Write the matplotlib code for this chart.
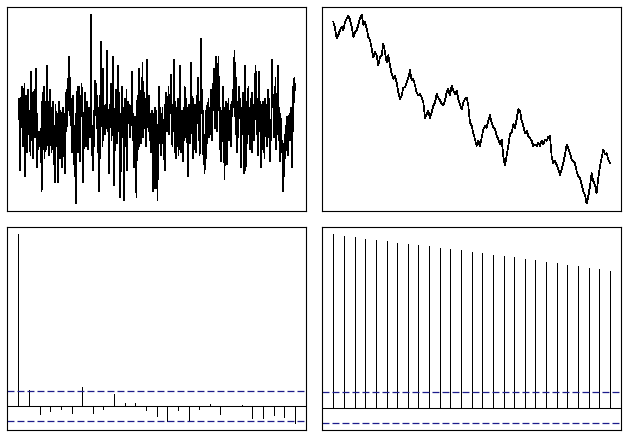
import numpy as np
import matplotlib
matplotlib.use("Agg")
import matplotlib.pyplot as plt

# white noise series
noise = [
    0.0, 0.7, 0.2, -1.7, -0.4, 0.5, 1.1, 0.3, -0.6, -0.9, 0.4, 1.2, -1.9, -0.2, 0.8, 0.6, -1.1, -0.3, 1.0, -0.5,
    0.3, -0.8, -1.2, 1.6, 0.9, -0.1, -1.3, 0.4, 0.7, 1.0, -0.6, -0.2, 1.7, -1.6, 0.2, -0.7, -1.0, -0.4, -0.8, -0.9,
    -0.3, -0.6, -2.4, 0.5, 0.9, -0.4, 1.1, -1.3, -0.8, 0.2, 0.6, -1.0, 1.8, 0.4, -0.5, -1.2, 0.1, 1.0, 0.7, -0.6,
    -1.1, 0.4, -0.2, 0.6, -1.5, -0.7, -2.1, 0.5, -0.3, -0.9, 0.2, -2.1, -1.0, 0.6, -0.4, -1.3, 0.3, 0.1, -0.8, -1.6,
    0.4, -0.5, 0.2, -1.3, -1.8, 0.6, 0.9, -0.4, 1.0, 0.3, 1.3, 2.1, 0.9, 1.4, -0.2, 0.7, -0.6, -1.1, 0.3, 0.8,
    -1.5, -0.9, -1.9, 0.2, -2.8, -0.4, 0.8, 1.1, -1.1, -0.3, 1.1, -1.4, 0.5, 0.1, 1.2, 0.6, -0.3, -2.1, -0.7, 0.2,
    0.9, -0.5, -0.9, 0.3, 0.6, -0.2, -1.0, 0.4, 0.2, -0.6, 0.5, 3.5, 0.1, -1.2, -0.6, -1.7, 0.3, -0.9, 1.3, 0.6,
    1.2, -0.3, 0.8, -1.1, -0.4, 0.4, -2.4, -0.8, 0.6, 2.6, -0.2, 0.5, -0.9, 1.7, 0.3, -0.4, -0.5, 0.2, 0.5, -0.3,
    2.3, 0.4, -0.3, -0.6, -1.8, 0.5, 0.1, 1.2, -0.7, -0.2, 0.6, 2.1, -0.5, -2.2, -0.6, 0.4, 1.0, 0.3, -0.8, 0.7,
    1.8, -0.4, 0.9, -0.5, -2.6, -1.0, 0.5, 1.1, -0.6, 0.4, -1.5, -2.7, 0.7, 0.2, -0.9, 1.0, -1.7, -0.3, 0.6, 0.1,
    0.5, -0.6, 0.3, -0.2, 0.6, 1.6, -0.7, 0.2, -1.6, -0.4, -0.9, 0.1, -1.2, -2.6, 0.3, 0.8, -0.5, -1.0, 1.7, 0.4,
    0.6, -0.8, 1.2, 0.3, 1.9, -0.6, -0.2, 0.9, -0.3, 0.7, -0.9, 0.3, 2.0, 0.5, -0.1, -0.4, 0.8, -0.7, 0.2, -1.1,
    -0.6, 0.3, -1.3, -2.4, -0.4, 0.2, -2.3, 0.4, -0.8, 0.3, -1.0, -2.7, -0.5, 0.1, 1.1, -0.8, 0.4, -1.2, 0.2, -0.6,
    0.4, -0.8, -0.2, -1.1, -1.7, 0.5, 0.2, 0.9, -0.4, 0.7, 0.3, 1.1, -0.5, 0.8, 0.2, 1.5, 0.6, -0.6, -0.9, 0.5,
    -0.4, 2.0, 0.6, -1.1, -0.3, -1.3, 0.4, -0.9, 0.7, -1.2, -0.2, 1.8, 0.5, -0.6, -1.1, 0.3, -0.5, -1.4, 0.4, -0.7,
    1.1, 0.3, 0.7, -0.6, 0.4, -0.9, -1.9, -0.3, 0.5, -0.4, -0.8, 0.6, 1.9, 0.2, -0.5, -1.3, 0.7, -1.0, -0.2, 0.5,
    0.2, -1.1, 0.8, 0.3, 1.4, -0.7, 0.6, -1.2, -0.4, 0.4, 2.7, 0.2, 1.0, -0.4, -1.4, -1.1, -1.8, -0.5, -1.3, 0.3,
    -0.8, 0.5, 0.1, 0.7, -0.6, 0.4, -0.5, 1.0, 0.6, -0.2, -0.7, 1.2, 0.3, 1.7, 0.9, -0.3, 1.1, 2.1, 0.4, -0.4,
    0.8, 2.1, 0.3, 0.7, -1.0, -0.4, -1.4, 0.3, -0.6, 1.1, -1.1, -0.4, -2.0, 0.4, -0.9, 0.6, -1.5, -0.2, -0.5, 0.7,
    -0.7, 0.3, -0.4, 0.5, -0.9, 0.6, 0.1, 1.0, 0.4, 1.6, 2.3, 0.7, -0.5, 1.4, 0.3, -1.1, 0.6, -0.6, 1.1, 0.2,
    0.7, -0.6, -1.6, 0.4, -0.5, 0.9, -0.4, -1.8, 0.5, 1.8, -1.7, -0.3, -0.8, 0.6, 0.2, 1.1, -0.5, 0.4, -1.0, 0.7,
    -0.6, 0.9, -1.1, 0.5, 0.1, -0.7, 0.6, 1.2, 1.8, 0.3, -0.5, 0.7, -1.2, 0.4, 1.6, -0.4, 0.6, -0.3, -1.6, 0.5,
    -0.4, 0.6, -1.0, -0.3, -1.3, 0.7, 0.2, 0.4, -0.9, 0.5, -0.3, 1.0, -0.6, 0.7, -1.4, -0.3, -0.7, 0.9, 2.0, 0.4,
    0.5, -0.6, 1.1, -0.4, 1.4, -1.0, 0.6, 0.3, -0.5, 1.8, -0.7, 0.4, -1.4, 0.2, -0.5, -1.1, -0.7, -1.5, -2.4, -0.8,
    -1.9, -0.5, -1.3, -0.2, -1.0, 0.1, -1.2, -0.4, -0.6, 0.2, -0.7, -0.3, 0.4, -0.5, -1.6, 1.1, -0.4, 1.0, 1.4, 1.0,
]

# random walk
walk = [
    -0.1, -1.4, -3.4, -2.7, -1.7, -1.1, -1.7, -0.1, 0.6, 1.1, 0.3, -1.1, -3.1, -2.1, -1.7, -0.7, 0.6, 1.3, -0.7, -0.1,
    -1.4, -3.1, -3.7, -5.4, -7.1, -6.1, -6.7, -8.7, -7.1, -6.7, -4.4, -6.1, -8.1, -6.7, -8.7, -10.4, -11.4, -10.7, -12.1, -14.1,
    -15.4, -14.7, -13.1, -13.1, -12.1, -11.1, -9.7, -11.7, -11.4, -12.7, -14.1, -14.7, -14.4, -15.1, -16.1, -19.1, -18.4, -17.7, -19.1, -18.1,
    -16.7, -16.1, -14.4, -15.1, -15.7, -16.4, -16.7, -15.7, -14.1, -13.4, -14.7, -12.7, -13.7, -14.4, -13.7, -15.4, -16.4, -17.4, -16.1, -15.4,
    -15.1, -16.7, -20.1, -20.7, -22.1, -23.4, -24.7, -23.7, -24.7, -23.1, -21.4, -20.7, -21.1, -19.7, -18.6, -20.1, -21.1, -21.4, -22.7, -23.4,
    -24.4, -23.4, -26.7, -28.6, -26.7, -24.7, -22.4, -22.1, -20.4, -21.1, -19.4, -17.4, -17.7, -19.7, -20.7, -22.1, -21.7, -22.7, -23.1, -23.7,
    -24.7, -24.4, -24.7, -24.1, -24.7, -23.7, -24.4, -23.4, -23.7, -22.9, -22.7, -26.7, -28.1, -27.7, -28.4, -29.4, -30.4, -29.4, -28.1, -26.4,
    -24.4, -25.1, -26.1, -27.4, -27.7, -28.1, -29.7, -30.7, -31.1, -32.4, -33.7, -34.4, -36.1, -34.7, -32.7, -30.1, -31.7, -32.4, -34.1, -31.1,
    -28.7, -27.1, -25.4, -26.4, -26.1, -27.4, -28.1,
]

# sample autocorrelations, lags 0..26
lags = list(range(27))
acf_noise = [1.0, 0.093, -0.048, -0.029, -0.018, -0.039, 0.112, -0.039, -0.019, 0.070,
             0.019, 0.019, -0.023, -0.058, -0.089, -0.023, -0.081, -0.016, 0.014, -0.047,
             0.002, 0.008, -0.068, -0.070, -0.052, -0.062, -0.097]
acf_walk = [1.0, 0.990, 0.983, 0.971, 0.965, 0.960, 0.950, 0.942, 0.937, 0.931,
            0.919, 0.913, 0.908, 0.896, 0.890, 0.879, 0.873, 0.867, 0.856, 0.850,
            0.838, 0.833, 0.821, 0.815, 0.804, 0.798, 0.787]
n_obs = 500

plt.rcParams['lines.scale_dashes'] = False
LW = 0.5
BAND = '#1c1c8c'


def r_lim(lo, hi):
    pad = (hi - lo) * 0.04
    return lo - pad, hi + pad


def style(ax):
    ax.set_xticks([])
    ax.set_yticks([])
    for s in ax.spines.values():
        s.set_linewidth(0.8)


def plot_series(ax, y):
    x = np.arange(1, len(y) + 1)
    ax.plot(x, y, color='black', lw=LW, antialiased=False)
    ax.set_xlim(*r_lim(1, len(y)))
    ax.set_ylim(*r_lim(min(y), max(y)))
    style(ax)


def plot_acf(ax, vals):
    clim = 1.96 / np.sqrt(n_obs)
    ax.vlines(lags, 0, vals, color='black', lw=LW, antialiased=False)
    ax.axhline(0, color='black', lw=0.75)
    for c in (clim, -clim):
        ax.axhline(c, color=BAND, lw=0.9, dashes=(5, 2.2))
    ax.set_xlim(*r_lim(min(lags), max(lags)))
    ax.set_ylim(*r_lim(min(min(vals), -clim), max(max(vals), clim)))
    style(ax)


fig = plt.figure(figsize=(6.29, 4.38), dpi=100)
W, H = 629, 438
boxes = [(7.3, 7.3), (322.3, 7.3), (7.3, 226.7), (322.3, 226.7)]
axes = [fig.add_axes([x / W, 1 - (y + 203.7) / H, 298.7 / W, 203.7 / H]) for x, y in boxes]

plot_series(axes[0], noise)
plot_series(axes[1], walk)
plot_acf(axes[2], acf_noise)
plot_acf(axes[3], acf_walk)

fig.savefig('out.png', dpi=100)
